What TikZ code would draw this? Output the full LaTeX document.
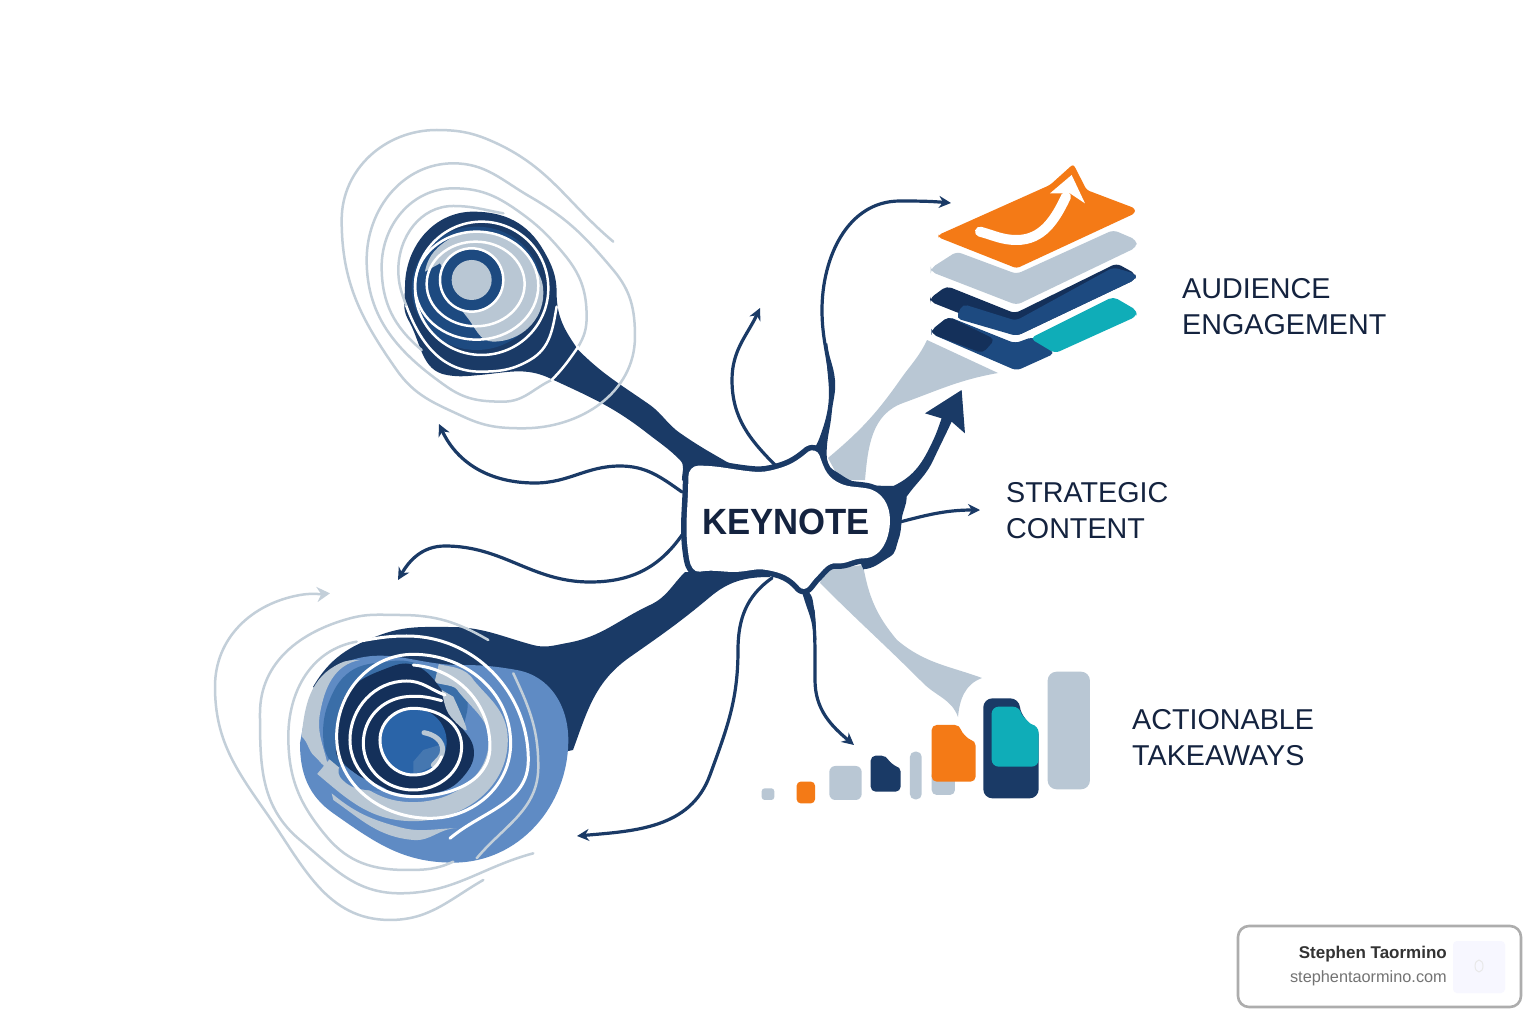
\documentclass[tikz,border=0pt]{standalone}
\usepackage{fontspec}
\setmainfont{Liberation Sans}
\usetikzlibrary{arrows.meta}
\definecolor{navy}{HTML}{1A3A66}
\definecolor{navyd}{HTML}{14305A}
\definecolor{midb}{HTML}{1D4A80}
\definecolor{ringb}{HTML}{3A6EA8}
\definecolor{softb}{HTML}{5F8BC4}
\definecolor{discb}{HTML}{2A64A8}
\definecolor{pale}{HTML}{B9C7D4}
\definecolor{line}{HTML}{C3CFD9}
\definecolor{orng}{HTML}{F47A16}
\definecolor{teal}{HTML}{0FADB8}
\definecolor{ink}{HTML}{14233F}
\newcommand\hubpath{(85,290) to[out=90,in=180] (115,257) to[out=0,in=175] (280,275) to[out=-5,in=195] (350,267) to[out=15,in=220] (445,215) to[out=40,in=110] (478,225) to[out=-70,in=150] (530,305) to[out=-30,in=170] (620,325) to[out=-10,in=90] (690,420) to[out=-90,in=0] (610,535) to[out=180,in=-5] (530,550) to[out=175,in=45] (470,590) to[out=225,in=50] (445,620) to[out=230,in=-50] (420,622) to[out=130,in=-10] (320,570) to[out=170,in=5] (240,575) to[out=185,in=10] (120,575) to[out=190,in=-80] (88,540) to[out=100,in=-90] (85,290) -- cycle}
\tikzset{
 zA/.style={shift={(330,120)},x=0.3333pt,y=-0.3333pt},
 zB/.style={shift={(200,580)},x=0.3333pt,y=-0.3333pt},
 zC/.style={shift={(660,380)},x=0.3333pt,y=-0.3333pt},
 zD/.style={shift={(820,150)},x=0.3333pt,y=-0.3333pt},
 zE/.style={shift={(750,660)},x=0.3333pt,y=-0.3333pt},
 swirl/.style={draw=line,line width=2.5pt,line cap=round,fill=none},
 whitel/.style={draw=white,line width=2.5pt,line cap=round,fill=none},
 conn/.style={draw=navy,line width=3.2pt,line cap=round,fill=none,-{Stealth[length=12pt,width=12pt]}},
 lab/.style={anchor=west,inner sep=0pt,align=left,text=ink,font=\fontsize{28.7}{36}\selectfont},
}
\begin{document}
\begin{tikzpicture}[x=1pt,y=-1pt,line join=round]
\useasboundingbox (0,0) rectangle (1536,1024);
\fill[white] (0,0) rectangle (1536,1024);

% ---------- pale funnels
\fill[pale] (828,458) to[out=40,in=-125] (900,380) to[out=55,in=-115] (927,340) -- (998,373) to[out=190,in=20] (903,403) to[out=200,in=85] (865,480) -- (840,480) -- cycle;
\fill[pale] (820,583) to[out=-45,in=135] (923,683) to[out=-45,in=110] (958,717) to[out=85,in=200] (982,678) to[out=160,in=-40] (897,640) to[out=130,in=-80] (863,565) -- (825,570) -- cycle;

% ---------- top-left blob and branch
\begin{scope}[zA]
\fill[navy] (430,275) to[out=0,in=120] (640,390) to[out=-60,in=90] (680,520) to[out=-90,in=125] (745,690)
  to[out=-45,in=145] (960,855) to[out=-36,in=145] (1050,939) to[out=-35,in=150] (1191,1026) to[out=-25,in=175] (1269,1044)
  -- (1100,1120) -- (1056,1080)
  to[out=90,in=-45] (1050,1020) to[out=135,in=-38] (951,939) to[out=142,in=-25] (660,775) to[out=155,in=5] (450,765) to[out=185,in=-10] (350,765) to[out=170,in=-60] (235,600) to[out=120,in=-90] (225,500) to[out=90,in=180] (430,275) -- cycle;
\fill[midb] (440,505) ellipse[x radius=195,y radius=185];
\fill[pale] (285,455) to[out=80,in=210] (370,350) to[out=30,in=180] (450,335) to[out=0,in=120] (620,450) to[out=-60,in=90] (640,520) to[out=-90,in=0] (490,665) to[out=180,in=-50] (410,590) to[out=130,in=-60] (330,430) -- cycle;
\fill[midb] (425,480) circle[radius=92];
\fill[pale] (425,480) circle[radius=60];
\draw[whitel] (425,480) circle[radius=95];
\draw[whitel] (437,492) ellipse[x radius=147,y radius=127];
\draw[whitel] (440,497) ellipse[x radius=185,y radius=162];
\draw[whitel] (455,505) circle[radius=200];
\draw[whitel] (228,555) to[out=-70,in=180] (450,755) to[out=0,in=210] (600,720) to[out=30,in=-100] (680,560);
\draw[swirl] (850,365) to[out=140,in=-25] (500,70) to[out=155,in=0] (320,30) to[out=180,in=90] (35,300) to[out=-90,in=125] (200,750) to[out=-55,in=155] (400,890) to[out=-25,in=180] (580,925) to[out=0,in=-90] (915,650) to[out=90,in=-50] (850,450) to[out=130,in=-30] (600,230) to[out=150,in=0] (370,130) to[out=180,in=90] (110,420) to[out=-90,in=145] (350,800) to[out=-35,in=180] (520,845) to[out=0,in=205] (665,780);
\draw[swirl] (745,680) to[out=60,in=-90] (770,590) to[out=90,in=-50] (700,400) to[out=130,in=-35] (560,270) to[out=145,in=0] (370,205) to[out=180,in=90] (155,440) to[out=-90,in=140] (275,690);
\draw[swirl] (520,280) to[out=170,in=0] (370,258) to[out=180,in=90] (205,450) to[out=-90,in=110] (228,555);
\draw[whitel] (745,680) to[out=-125,in=45] (665,780);
\end{scope}

% ---------- bottom-left blob and branch
\fill[navy] (313,687) to[out=60,in=200] (380,635) to[out=20,in=180] (450,627) to[out=0,in=165] (533,645) to[out=-15,in=190] (567,643) to[out=10,in=205] (650,605) to[out=25,in=225] (685,572)
  -- (770,572) -- (770,577)
  to[out=180,in=40] (710,597) to[out=220,in=35] (630,657) to[out=215,in=70] (573,750)
  -- (480,770) -- cycle;
\begin{scope}[zB]
\fill[softb] (300,490) to[out=80,in=200] (440,245) to[out=20,in=180] (780,255) to[out=0,in=170] (950,270) to[out=-10,in=90] (1105,480) to[out=-90,in=0] (760,848) to[out=180,in=-35] (400,700) to[out=145,in=-90] (300,490) -- cycle;
\fill[pale] (305,470) to[out=85,in=205] (420,250) to[out=25,in=180] (480,240) to[out=190,in=80] (360,400) to[out=-100,in=100] (385,565) to[out=160,in=-40] (345,530) to[out=140,in=-40] (305,470) -- cycle;
\fill[ringb] plot[smooth cycle,tension=.7] coordinates {(370,480) (385,370) (450,275) (560,245) (650,250) (760,300) (800,400) (700,560) (430,570) (395,550)};
\draw[pale,line width=19pt,line cap=butt] (710,280) to[out=-15,in=120] (800,320) to[out=-50,in=90] (895,480) to[out=-90,in=0] (640,695) to[out=180,in=-40] (370,560);
\fill[pale] (395,640) to[out=-40,in=165] (600,742) to[out=-15,in=180] (770,745) to[out=180,in=-5] (640,780) to[out=175,in=-35] (400,660) -- cycle;
\fill[navyd] plot[smooth cycle,tension=.7] coordinates {(410,480) (440,340) (560,265) (650,258) (725,330) (750,400) (820,500) (790,590) (700,640) (560,630) (430,550)};
\fill[softb!80!discb] plot[smooth cycle,tension=.6] coordinates {(425,555) (480,590) (560,630) (470,625) (420,590)};
\fill[pale] plot[smooth,tension=.6] coordinates {(725,330) (745,400) (800,450) (760,350)} -- cycle;
\fill[discb] (640,485) circle[radius=100];
\fill[ringb!70!softb] (640,545) -- (670,510) -- (735,490) -- (720,550) -- (640,585) -- cycle;
\draw[pale,line width=5pt,line cap=round] (672,458) to[out=-10,in=90] (728,510) to[out=-90,in=50] (700,555);
\draw[whitel,line width=3pt] (725,530) to[out=-110,in=0] (640,585) to[out=180,in=-90] (540,480) to[out=90,in=180] (640,385) to[out=0,in=90] (785,500) to[out=-90,in=0] (640,630) to[out=180,in=-90] (490,490) to[out=90,in=185] (620,350) to[out=5,in=165] (725,362);
\draw[whitel,line width=3pt] (735,345) to[out=160,in=0] (620,303) to[out=180,in=90] (450,480) to[out=-90,in=180] (640,650) to[out=0,in=-90] (870,500) to[out=90,in=-5] (640,255);
\draw[whitel,line width=3pt] (410,470) to[out=90,in=180] (640,223) to[out=0,in=90] (932,490) to[out=-90,in=0] (690,715) to[out=180,in=-90] (410,470) -- cycle;
\draw[whitel,line width=3pt] (470,185) to[out=10,in=180] (620,168) to[out=0,in=90] (985,540) to[out=-90,in=40] (750,775);
\draw[swirl] (470,185) to[out=190,in=90] (265,470) to[out=-90,in=130] (380,770) to[out=-50,in=180] (620,870) to[out=0,in=205] (760,845);
\draw[swirl] (940,280) to[out=-65,in=90] (1015,560) to[out=-90,in=50] (830,835);
\draw[swirl] (1000,820) to[out=195,in=0] (600,940) to[out=180,in=-40] (300,780) to[out=140,in=-90] (180,400) to[out=90,in=195] (450,115) to[out=15,in=180] (600,105) to[out=0,in=150] (865,180);
\coordinate (swirlend) at (390,40);
\draw[swirl,-{Stealth[length=13pt,width=15pt]}] (850,900) to[out=210,in=0] (570,1020) to[out=180,in=-55] (200,700) to[out=125,in=-90] (45,320) to[out=90,in=190] (300,45) to[out=10,in=185] (swirlend);
\end{scope}

% ---------- named ends
\coordinate (tipA) at (439,424);
\coordinate (tipB) at (398,580);
\coordinate (tipC) at (760,308);
\coordinate (tipD) at (951,203);
\coordinate (tipF) at (980,510);
\coordinate (tipG) at (577,836);
\coordinate (tipH) at (854,745);
\coordinate (srcA) at (682,492);
\coordinate (srcB) at (682,535);
\coordinate (srcC) at (777,467);
\coordinate (srcD) at (831,385);
\coordinate (srcF) at (900,522);
\coordinate (srcG) at (772,578);
\coordinate (srcH) at (813,610);

% ---------- connectors
\draw[conn] (srcA) to[out=145,in=0] (620,466) to[out=180,in=0] (535,483) to[out=180,in=-65] (tipA);
\draw[conn] (srcB) to[out=235,in=0] (590,582) to[out=180,in=0] (445,546) to[out=180,in=60] (tipB);
\draw[conn] (srcC) to[out=135,in=-90] (732,380) to[out=90,in=-115] (tipC);
\draw[conn] (srcD) to[out=95,in=-90] (822,310) to[out=90,in=180] (900,201) to[out=0,in=175] (tipD);
\draw[conn] (srcF) to[out=15,in=180] (tipF);
\draw[conn] (srcG) to[out=215,in=90] (738,650) to[out=-90,in=70] (710,775) to[out=250,in=5] (tipG);
\draw[conn] (srcH) to[out=-85,in=90] (815,680) to[out=-90,in=140] (tipH);

% ---------- hub
\begin{scope}[zC]
\fill[navy] (420,250) to[out=40,in=-110] (480,170) to[out=70,in=-85] (505,0) to[out=95,in=-85] (495,-110) -- (502,-110) to[out=-85,in=95] (525,0) to[out=-85,in=85] (515,100) to[out=-95,in=90] (500,220) to[out=-90,in=150] (520,270) to[out=-30,in=170] (600,310) -- (450,300) -- cycle;
\fill[navy] (600,310) to[out=-10,in=180] (700,318) to[out=0,in=90] (740,350) to[out=-90,in=85] (725,420) to[out=-95,in=70] (715,480) to[out=-110,in=30] (690,530) to[out=-150,in=5] (610,568) -- (560,450) -- cycle;
\fill[navy] (700,318) to[out=25,in=-115] (820,180) to[out=65,in=-110] (845,115) -- (795,100) -- (905,30) -- (915,160) -- (875,125)
  to[out=-115,in=65] (820,240) to[out=-115,in=55] (740,350) -- cycle;
\fill[navy] (420,610) to[out=-50,in=100] (458,660) to[out=-80,in=92] (469,780) -- (461,780) to[out=92,in=-70] (440,680) to[out=110,in=-40] (400,600) -- cycle;
\draw[navy,line width=11pt] \hubpath;
\fill[white] \hubpath;
\end{scope}
\node[inner sep=0pt,minimum width=204pt,minimum height=110pt,text=ink,font=\bfseries\fontsize{36.5}{36}\selectfont] (k) at (786,522) {\scalebox{.95}[1]{KEYNOTE}};

% ---------- card stack
\begin{scope}[zD]
\fill[orng,rounded corners=3pt] (355,255) -- (690,105) -- (760,42) -- (800,120) -- (945,175) -- (945,190) -- (590,355) -- (355,262) -- cycle;
\draw[white,line width=10pt,line cap=round] (480,245) to[out=-15,in=180] (590,270) to[out=0,in=-115] (738,140);
\fill[white] (690,130) -- (755,75) -- (795,160) -- (750,130) -- cycle;
\fill[pale,rounded corners=5pt] (332,355) -- (410,305) -- (590,372) -- (880,240) -- (950,270) -- (950,292) -- (590,465) -- (332,365) -- cycle;
\fill[navyd,rounded corners=5pt] (330,445) -- (380,408) -- (585,490) -- (890,340) -- (948,372) -- (948,388) -- (590,558) -- (330,455) -- cycle;
\fill[midb,rounded corners=5pt] (408,505) -- (428,462) -- (588,512) -- (880,352) -- (948,372) -- (948,388) -- (590,558) -- cycle;
\fill[midb,rounded corners=5pt] (335,540) -- (385,500) -- (585,580) -- (640,560) -- (705,610) -- (590,662) -- (335,552) -- cycle;
\fill[navyd,rounded corners=5pt] (335,540) -- (385,500) -- (525,568) -- (488,610) -- (335,552) -- cycle;
\fill[teal,rounded corners=5pt] (630,565) -- (880,440) -- (952,482) -- (948,500) -- (705,610) -- cycle;
\end{scope}

% ---------- bars
\begin{scope}[zE]
\fill[pale,rounded corners=3pt] (35,385) rectangle (73,420);
\fill[orng,rounded corners=4pt] (140,365) rectangle (195,430);
\fill[pale,rounded corners=6pt] (238,318) rectangle (335,420);
\fill[navy,rounded corners=5pt] (362,395) -- (362,287) -- (410,287) .. controls (418,305) and (435,318) .. (452,320) -- (452,395) -- cycle;
\fill[pale,rounded corners=5pt] (480,275) rectangle (515,418);
\fill[pale,rounded corners=5pt] (545,330) rectangle (615,405);
\fill[orng,rounded corners=5pt] (545,365) -- (545,195) -- (630,195) .. controls (635,218) and (655,238) .. (677,242) -- (677,365) -- cycle;
\fill[navy,rounded corners=9pt] (700,415) -- (700,115) -- (808,115) .. controls (812,165) and (840,192) .. (866,197) -- (866,415) -- cycle;
\fill[teal,rounded corners=7pt] (725,320) -- (725,140) -- (810,140) .. controls (815,165) and (840,192) .. (866,197) -- (866,320) -- cycle;
\fill[pale,rounded corners=9pt] (893,35) rectangle (1020,388);
\end{scope}

% ---------- labels
\node[lab] (t1) at (1182,307) {AUDIENCE\\ENGAGEMENT};
\node[lab] (t2) at (1006,511) {STRATEGIC\\CONTENT};
\node[lab] (t3) at (1132,738) {ACTIONABLE\\TAKEAWAYS};

% ---------- badge
\draw[draw=black!32,line width=2.6pt,fill=white,rounded corners=11pt] (1238,926) rectangle (1521,1007);
\fill[black!5!blue!3!white,rounded corners=4pt] (1453,941) rectangle (1505,993);
\draw[black!9,line width=1pt] (1479,966) ellipse[x radius=4,y radius=6];
\node[anchor=east,inner sep=0pt,text=black!80,font=\bfseries\fontsize{17}{17}\selectfont] (b1) at (1447,954) {Stephen Taormino};
\node[anchor=east,inner sep=0pt,text=black!55,font=\fontsize{16.3}{16.3}\selectfont] (b2) at (1447,978) {stephentaormino.com};
\end{tikzpicture}
\end{document}
